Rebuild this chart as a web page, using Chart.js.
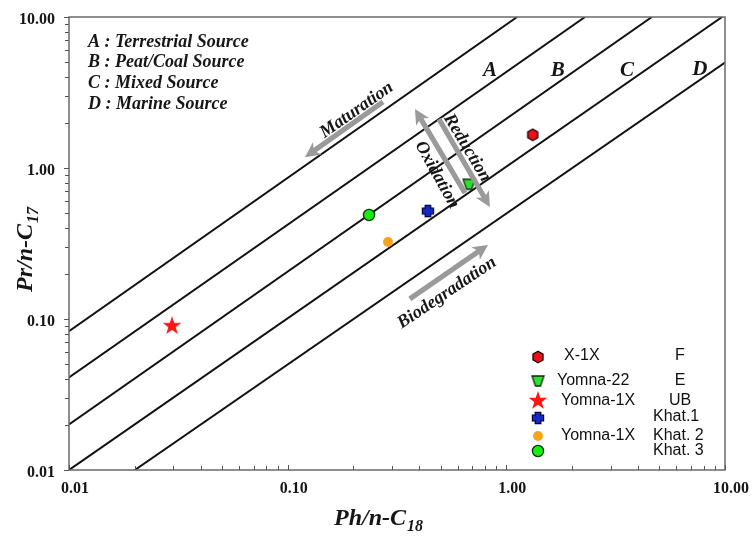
<!DOCTYPE html>
<html>
<head>
<meta charset="utf-8">
<script src="https://cdn.jsdelivr.net/npm/chart.js@4/dist/chart.umd.min.js"></script>
<style>
  html, body { margin: 0; padding: 0; background: #fff; }
  #wrap { width: 753px; height: 542px; }
</style>
</head>
<body>
<div id="wrap"><canvas id="c" width="753" height="542"></canvas></div>
<script>
// Pristane/n-C17 versus phytane/n-C18 for the studied oils
const sampleWells = ['X-1X', 'Yomna-22', 'Yomna-1X', '', 'Yomna-1X', ''];
const sampleUnits = ['F', 'E', 'UB', 'Khat.1', 'Khat. 2', 'Khat. 3'];
const phC18 = [1.32, 0.675, 0.0296, 0.438, 0.2875, 0.2355];
const prC17 = [1.66, 0.78, 0.091, 0.519, 0.324, 0.489];

// Source-field boundary lines: start and end of each line
const boundaryPh = [[0.01, 1.12], [0.01, 2.29], [0.01, 4.63], [0.01, 9.7], [0.02, 10]];
const boundaryPr = [[0.083, 10], [0.041, 10], [0.02, 10], [0.01, 10], [0.01, 5]];

// Field letters and their meaning
const fieldLetters = ['A', 'B', 'C', 'D'];
const fieldNames = ['Terrestrial Source', 'Peat/Coal Source', 'Mixed Source', 'Marine Source'];
const fieldLetterPh = [0.841, 1.72, 3.56, 7.68];
const fieldLetterPr = [4.39, 4.39, 4.39, 4.46];

// Axis ticks
const majorTicks = [0.01, 0.1, 1, 10];
const tickLabels = ['0.01', '0.10', '1.00', '10.00'];

// Process arrows (tail -> head, in data units) and their captions
const processNames = ['Maturation', 'Oxidation', 'Reduction', 'Biodegradation'];
const arrowTail = [[0.273, 2.74], [0.647, 0.683], [0.492, 2.11], [0.362, 0.136]];
const arrowHead = [[0.12, 1.18], [0.382, 2.46], [0.841, 0.552], [0.824, 0.309]];
const captionAt = [[0.207, 2.42], [0.482, 0.899], [0.661, 1.36], [0.535, 0.149]];
const captionAngle = [-35, 61, 59, -34];

const SERIF = '"Liberation Serif", "DejaVu Serif", serif';
const SANS = '"Liberation Sans", Arial, sans-serif';
const INK = '#161616';

// ---- marker images ----
function makeCanvas(w, h) {
  const c = document.createElement('canvas');
  c.width = w; c.height = h;
  return c;
}
function hexagon() {
  const c = makeCanvas(14, 14), g = c.getContext('2d');
  g.beginPath();
  for (let i = 0; i < 6; i++) {
    const a = Math.PI / 6 + i * Math.PI / 3;
    g.lineTo(7 + 5.8 * Math.cos(a), 7 + 5.8 * Math.sin(a));
  }
  g.closePath();
  g.fillStyle = '#e8101a'; g.fill();
  g.lineWidth = 1.3; g.strokeStyle = '#2a0000'; g.stroke();
  return c;
}
function triangleDown() {
  const c = makeCanvas(15, 14), g = c.getContext('2d');
  g.beginPath();
  g.moveTo(1.5, 2); g.lineTo(13.5, 2); g.lineTo(10, 12); g.lineTo(5, 12);
  g.closePath();
  g.fillStyle = '#2ee02e'; g.fill();
  g.lineWidth = 1.3; g.strokeStyle = '#0c2a0c'; g.stroke();
  return c;
}
function star() {
  const c = makeCanvas(22, 22), g = c.getContext('2d');
  g.beginPath();
  for (let i = 0; i < 10; i++) {
    const r = i % 2 ? 3.9 : 9.8;
    const a = -Math.PI / 2 + i * Math.PI / 5;
    g.lineTo(11 + r * Math.cos(a), 11.8 + r * Math.sin(a));
  }
  g.closePath();
  g.fillStyle = '#ff1414'; g.fill();
  return c;
}
function plusMark() {
  const c = makeCanvas(14, 14), g = c.getContext('2d');
  const a = 2.8, b = 5.6, o = 7;
  g.beginPath();
  g.moveTo(o - a, o - b); g.lineTo(o + a, o - b); g.lineTo(o + a, o - a);
  g.lineTo(o + b, o - a); g.lineTo(o + b, o + a); g.lineTo(o + a, o + a);
  g.lineTo(o + a, o + b); g.lineTo(o - a, o + b); g.lineTo(o - a, o + a);
  g.lineTo(o - b, o + a); g.lineTo(o - b, o - a); g.lineTo(o - a, o - a);
  g.closePath();
  g.fillStyle = '#1428c8'; g.fill();
  g.lineWidth = 1.2; g.strokeStyle = '#00003a'; g.stroke();
  return c;
}
function dot(fill, r, stroke) {
  const c = makeCanvas(14, 14), g = c.getContext('2d');
  g.beginPath(); g.arc(7, 7, r, 0, Math.PI * 2);
  g.fillStyle = fill; g.fill();
  if (stroke) { g.lineWidth = 1.3; g.strokeStyle = stroke; g.stroke(); }
  return c;
}
const markers = [hexagon(), triangleDown(), star(), plusMark(), dot('#f7a41c', 5), dot('#14ee14', 5.6, '#0a2e0a')];

// ---- datasets ----
const datasets = [{
  type: 'scatter',
  data: phC18.map((x, i) => ({ x: x, y: prC17[i] })),
  pointStyle: markers,
  pointRadius: 7,
  pointHoverRadius: 7,
  order: 0
}];
boundaryPh.forEach((xs, i) => {
  datasets.push({
    type: 'line',
    data: [{ x: xs[0], y: boundaryPr[i][0] }, { x: xs[1], y: boundaryPr[i][1] }],
    borderColor: '#111',
    borderWidth: 2,
    pointRadius: 0,
    fill: false,
    order: 1
  });
});

// ---- decorations drawn on top of the plot ----
function drawArrow(g, x1, y1, x2, y2) {
  const ang = Math.atan2(y2 - y1, x2 - x1);
  const headLen = 15, halfW = 7.5, notch = 4;
  g.save();
  g.translate(x2, y2);
  g.rotate(ang);
  const len = Math.hypot(x2 - x1, y2 - y1);
  g.fillStyle = '#9a9a9a';
  g.fillRect(-len, -2.6, len - headLen + notch + 1, 5.2);
  g.beginPath();
  g.moveTo(0, 0);
  g.lineTo(-headLen, -halfW);
  g.lineTo(-headLen + notch, 0);
  g.lineTo(-headLen, halfW);
  g.closePath();
  g.fill();
  g.restore();
}

const decor = {
  id: 'decor',
  afterDatasetsDraw(chart) {
    const g = chart.ctx, xs = chart.scales.x, ys = chart.scales.y, a = chart.chartArea;
    const px = v => xs.getPixelForValue(v), py = v => ys.getPixelForValue(v);
    g.save();

    // frame
    g.strokeStyle = '#6a6a6a';
    g.lineWidth = 1.5;
    g.strokeRect(a.left, a.top, a.right - a.left, a.bottom - a.top);

    // tick marks: y outside, x inside
    g.strokeStyle = '#555';
    g.lineWidth = 1;
    for (let d = 0; d < majorTicks.length; d++) {
      for (let m = 1; m <= 9; m++) {
        const v = majorTicks[d] * m;
        if (v > 10.0001) continue;
        const len = m === 1 ? 5 : 4;
        const y = Math.round(py(v)) + 0.5;
        g.beginPath(); g.moveTo(a.left - len, y); g.lineTo(a.left, y); g.stroke();
        const x = Math.round(px(v)) + 0.5;
        g.beginPath(); g.moveTo(x, a.bottom); g.lineTo(x, a.bottom - len); g.stroke();
      }
    }

    // field key, top left
    g.fillStyle = INK;
    g.font = 'italic bold 18px ' + SERIF;
    g.textAlign = 'left';
    g.textBaseline = 'middle';
    const keyRows = [42, 62, 83, 104];
    fieldLetters.forEach((L, i) => {
      g.fillText(L + ' : ' + fieldNames[i], a.left + 19, keyRows[i]);
    });

    // field letters
    g.font = 'italic bold 21px ' + SERIF;
    g.textAlign = 'center';
    fieldLetters.forEach((L, i) => {
      g.fillText(L, px(fieldLetterPh[i]), py(fieldLetterPr[i]));
    });

    // process arrows and captions
    processNames.forEach((name, i) => {
      drawArrow(g, px(arrowTail[i][0]), py(arrowTail[i][1]), px(arrowHead[i][0]), py(arrowHead[i][1]));
    });
    g.fillStyle = INK;
    g.font = 'italic bold 18px ' + SERIF;
    processNames.forEach((name, i) => {
      g.save();
      g.translate(px(captionAt[i][0]), py(captionAt[i][1]));
      g.rotate(captionAngle[i] * Math.PI / 180);
      g.fillText(name, 0, 0);
      g.restore();
    });

    // sample key, bottom right
    const mx = a.right - 187;
    const rowY = [357, 381, 400, 418, 436, 451];
    const wellX = [564, 557, 561, 0, 561, 0];
    const wellY = [356, 381, 401, 0, 436, 0];
    const unitY = [356, 381, 401, 417, 436, 451];
    markers.forEach((img, i) => {
      g.drawImage(img, mx - img.width / 2, rowY[i] - img.height / 2);
    });
    g.font = '16px ' + SANS;
    g.fillStyle = '#111';
    g.textBaseline = 'middle';
    sampleWells.forEach((w, i) => {
      if (!w) return;
      g.textAlign = 'left';
      g.fillText(w, wellX[i], wellY[i]);
    });
    sampleUnits.forEach((u, i) => {
      if (u.startsWith('Khat')) {
        g.textAlign = 'left';
        g.fillText(u, 653, unitY[i]);
      } else {
        g.textAlign = 'center';
        g.fillText(u, 680, unitY[i]);
      }
    });
    g.restore();
  },
  afterDraw(chart) {
    const g = chart.ctx;
    g.save();
    g.fillStyle = INK;
    g.textBaseline = 'alphabetic';
    function richTitle(main, sub, cx, cy) {
      g.font = 'italic bold 24px ' + SERIF;
      const w1 = g.measureText(main).width;
      g.font = 'italic bold 16px ' + SERIF;
      const w2 = g.measureText(sub).width;
      const x0 = cx - (w1 + w2) / 2;
      g.font = 'italic bold 24px ' + SERIF;
      g.textAlign = 'left';
      g.fillText(main, x0, cy + 8);
      g.font = 'italic bold 16px ' + SERIF;
      g.fillText(sub, x0 + w1 + 1, cy + 14);
    }
    richTitle('Ph/n-C', '18', 378, 517);
    g.translate(24, 250);
    g.rotate(-Math.PI / 2);
    richTitle('Pr/n-C', '17', 0, 0);
    g.restore();
  }
};

const tickFont = { family: SERIF, size: 16, weight: 'bold' };
const majorLabel = v => tickLabels[majorTicks.findIndex(t => Math.abs(t - v) < v * 1e-6)];

new Chart(document.getElementById('c'), {
  data: { datasets: datasets },
  options: {
    responsive: false,
    animation: false,
    events: [],
    layout: { padding: { left: 0, right: 28, top: 17, bottom: 0 } },
    plugins: { legend: { display: false }, tooltip: { enabled: false } },
    scales: {
      x: {
        type: 'logarithmic',
        min: 0.01,
        max: 10,
        grid: { display: false, drawTicks: false },
        border: { display: false },
        afterBuildTicks: s => { s.ticks = majorTicks.map(v => ({ value: v })); },
        afterFit: s => { s.height = 72; s.paddingLeft = 0; s.paddingRight = 0; },
        ticks: {
          autoSkip: false,
          maxRotation: 0,
          padding: 9,
          labelOffset: 6,
          color: INK,
          font: tickFont,
          callback: majorLabel
        }
      },
      y: {
        type: 'logarithmic',
        min: 0.01,
        max: 10,
        grid: { display: false, drawTicks: false },
        border: { display: false },
        afterBuildTicks: s => { s.ticks = majorTicks.map(v => ({ value: v })); },
        afterFit: s => { s.width = 69; s.paddingTop = 0; s.paddingBottom = 0; },
        ticks: {
          autoSkip: false,
          padding: 14,
          labelOffset: 3,
          color: INK,
          font: tickFont,
          callback: majorLabel
        }
      }
    }
  },
  plugins: [decor]
});
</script>
</body>
</html>
